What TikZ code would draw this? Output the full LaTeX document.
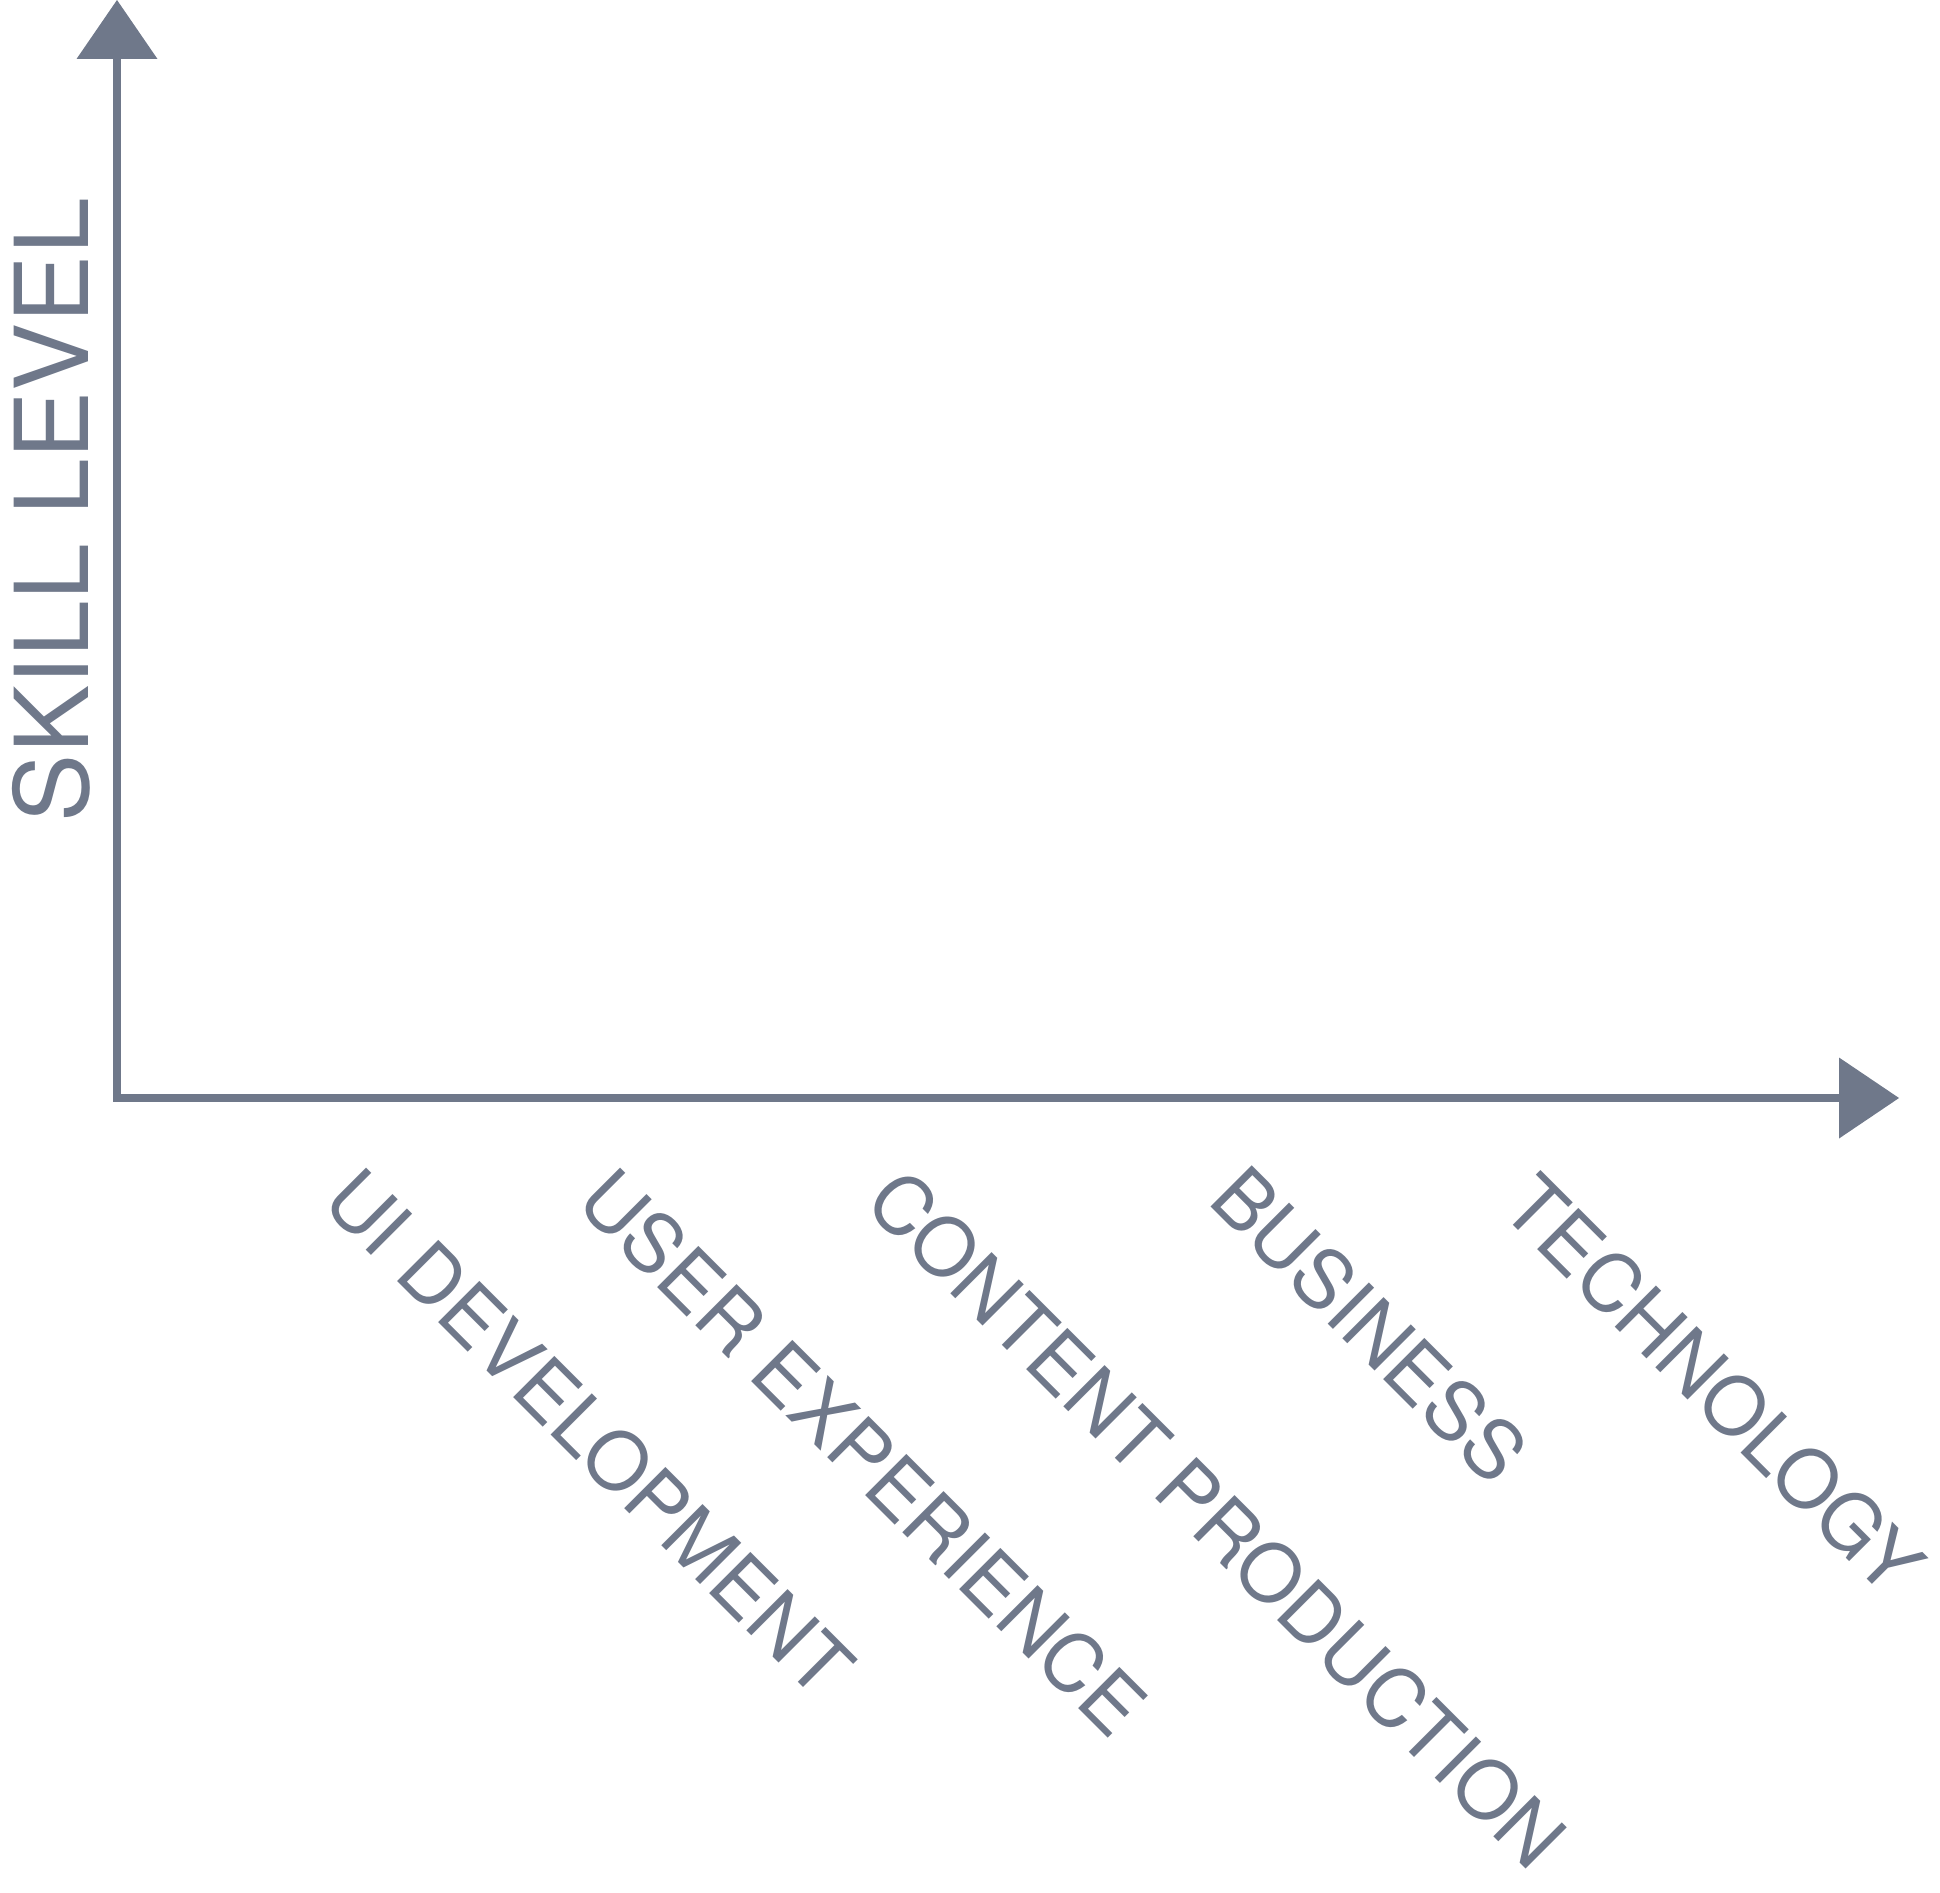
\documentclass[tikz,border=0pt]{standalone}
\usepackage{fontspec}
\setmainfont{TeX Gyre Heros}
\definecolor{slate}{RGB}{111,120,138}
\begin{document}
\begin{tikzpicture}[x=1pt,y=-1pt,
  axisline/.style={draw=slate,line width=7.5pt,line join=miter},
  headfill/.style={fill=slate},
  cat/.style={text=slate,font=\fontsize{80}{96}\selectfont,rotate=-45,anchor=base west,inner sep=0pt,outer sep=0pt},
  ytitle/.style={text=slate,font=\fontsize{102}{120}\selectfont,rotate=90,anchor=base west,inner sep=0pt,outer sep=0pt}]
\useasboundingbox (0,0) rectangle (1940,1892);
% axes
\coordinate (ytip) at (117,0);
\coordinate (yin) at (117,55);
\coordinate (origin) at (117,1098);
\coordinate (xin) at (1843,1098);
\coordinate (xtip) at (1899,1098);
\draw[axisline] (yin) -- (origin) -- (xin);
\fill[headfill] (ytip) -- ++(-40.5,59) -- ++(81,0) -- cycle;
\fill[headfill] (xtip) -- ++(-60,-40.5) -- ++(0,81) -- cycle;
% titles
\node[ytitle] (skill) at (88.3,822) {SKILL LEVEL};
\node[cat] (ui) at (320,1204) {UI DEVELOPMENT};
\node[cat] (ux) at (574,1204) {USER EXPERIENCE};
\node[cat] (content) at (862,1205) {CONTENT PRODUCTION};
\node[cat] (business) at (1206,1202) {BUSINESS};
\node[cat] (tech) at (1498,1210) {TECHNOLOGY};
\end{tikzpicture}
\end{document}
